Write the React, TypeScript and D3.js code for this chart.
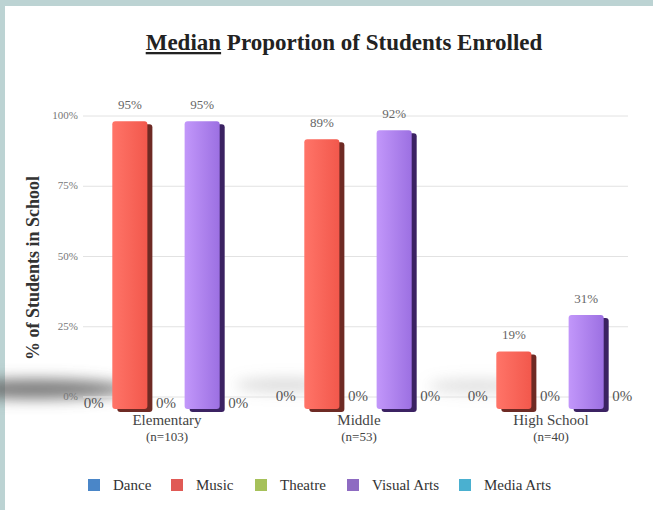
import React from 'react';
import * as d3 from 'd3';

// chart data
const groups = ['Elementary', 'Middle', 'High School'];
const groupN = ['(n=103)', '(n=53)', '(n=40)'];
const subjects = ['Dance', 'Music', 'Theatre', 'Visual Arts', 'Media Arts'];
const dance = [0, 0, 0];
const music = [0.95, 0.89, 0.19];
const theatre = [0, 0, 0];
const visualArts = [0.95, 0.92, 0.31];
const mediaArts = [0, 0, 0];
const yTicks = [0, 0.25, 0.5, 0.75, 1];

const seriesValues = [dance, music, theatre, visualArts, mediaArts];
const legendColors = ['#4a86c8', '#e05a55', '#a6c15a', '#8e6bc2', '#4ab0d0'];
// 3d bar faces: [front light, front dark, side]
const barFaces = {
  Music: ['#ff7468', '#f2584c', '#6e2a24'],
  'Visual Arts': ['#c297fa', '#9c70e2', '#3b2262'],
};
// the first group's zero labels sit a bit lower in the original
const zeroLabelDy = [7, 0, 0];

const W = 653, H = 510;
const font = '"Liberation Serif", "Times New Roman", serif';

const App = () => {
  const x0 = d3.scaleBand().domain(groups).range([70, 646]);
  const x1 = d3.scaleBand().domain(subjects).range([0, x0.bandwidth()]).paddingInner(0.03).paddingOuter(0.17);
  // grid plane (back wall) vs bar plane (front) for the pseudo-3d look
  const yGrid = d3.scaleLinear().domain([0, 1]).range([397, 116]);
  const yBar = d3.scaleLinear().domain([0, 1]).range([409, 106]);
  const pct = d3.format('.0%');

  return (
    <svg width={W} height={H} style={{ position: 'absolute', left: 0, top: 0, fontFamily: font }}>
      <defs>
        <filter id="blur" x="-50%" y="-200%" width="200%" height="500%">
          <feGaussianBlur stdDeviation="7" />
        </filter>
        {Object.entries(barFaces).map(([k, c], i) => (
          <linearGradient key={k} id={`g${i}`} x1="0" x2="1" y1="0" y2="0">
            <stop offset="0" stopColor={c[0]} />
            <stop offset="1" stopColor={c[1]} />
          </linearGradient>
        ))}
      </defs>
      <rect width={W} height={H} fill="#bcd3d3" />
      <rect x={5} y={6} width={W - 5} height={H - 6} fill="#fff" />

      <text x={344} y={50} textAnchor="middle" fontSize={23} fontWeight="bold" fill="#222">
        <tspan textDecoration="underline">Median</tspan> Proportion of Students Enrolled
      </text>

      {/* floor shadow */}
      <g filter="url(#blur)">
        <ellipse cx={35} cy={389} rx={95} ry={10} fill="#666" opacity={0.85} />
        <ellipse cx={285} cy={385} rx={50} ry={7} fill="#999" opacity={0.35} />
        <ellipse cx={478} cy={386} rx={50} ry={7} fill="#999" opacity={0.3} />
      </g>

      {/* grid + y axis */}
      {yTicks.map(t => (
        <g key={t}>
          <line x1={83} x2={628} y1={yGrid(t)} y2={yGrid(t)} stroke="#e2e2e2" strokeWidth={1} />
          <text x={78} y={yGrid(t) + 3} textAnchor="end" fontSize={11} fill="#777">{pct(t)}</text>
        </g>
      ))}
      <text transform="translate(39,268) rotate(-90)" textAnchor="middle" fontSize={18} fontWeight="bold" fill="#333">
        % of Students in School
      </text>

      {/* bars */}
      {groups.map((g, gi) => (
        <g key={g} transform={`translate(${x0(g)},0)`}>
          {subjects.map((s, si) => {
            const v = seriesValues[si][gi];
            const bx = x1(s);
            const bw = x1.bandwidth();
            const cx = bx + bw / 2;
            const faces = barFaces[s];
            if (v <= 0 || !faces) {
              return (
                <text key={s} x={cx} y={yBar(0) - 8 + zeroLabelDy[gi]} textAnchor="middle" fontSize={15} fill="#555">{pct(v)}</text>
              );
            }
            const fi = Object.keys(barFaces).indexOf(s);
            const top = yBar(v);
            const h = yBar(0) - top;
            return (
              <g key={s}>
                <rect x={bx + 5} y={top + 3} width={bw} height={h} rx={3} fill={faces[2]} />
                <rect x={bx} y={top} width={bw} height={h} rx={3} fill={`url(#g${fi})`} />
                <text x={cx} y={top - 12} textAnchor="middle" fontSize={13} fill="#666">{pct(v)}</text>
              </g>
            );
          })}
          <text x={x0.bandwidth() / 2 + 1} y={425} textAnchor="middle" fontSize={15} fill="#444">{g}</text>
          <text x={x0.bandwidth() / 2 + 1} y={441} textAnchor="middle" fontSize={13} fill="#444">{groupN[gi]}</text>
        </g>
      ))}

      {/* legend */}
      {(() => {
        const lx = [88, 171, 255, 347, 459];
        return subjects.map((s, i) => (
          <g key={s} transform={`translate(${lx[i]},479)`}>
            <rect width={12} height={12} fill={legendColors[i]} />
            <text x={25} y={11} fontSize={15} fill="#333">{s}</text>
          </g>
        ));
      })()}
    </svg>
  );
};

export default App;
